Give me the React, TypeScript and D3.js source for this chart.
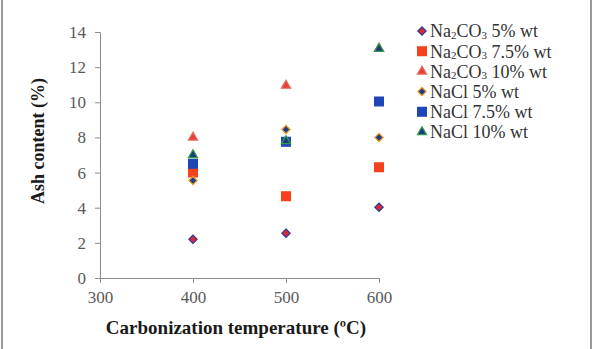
import React, { useEffect, useRef } from "react";
import * as d3 from "d3";

// carbonization temperatures (ºC)
const temps = [400, 500, 600];
const xTicks = [300, 400, 500, 600];
const yTicks = [0, 2, 4, 6, 8, 10, 12, 14];

// ash content (%) per series at each temperature
const na2co3_5 = [2.2, 2.55, 4.03];
const na2co3_75 = [6.0, 4.65, 6.3];
const na2co3_10 = [8.0, 10.95, 13.05];
const nacl_5 = [5.55, 8.45, 8.0];
const nacl_75 = [6.5, 7.75, 10.05];
const nacl_10 = [7.0, 7.8, 13.05];

type Series = {
    salt: string;
    load: string;
    values: number[];
    shape: "diamond" | "square" | "triangle";
    fill: string;
    stroke: string;
};

const series: Series[] = [
    { salt: "Na2CO3", load: "5% wt", values: na2co3_5, shape: "diamond", fill: "#d7263d", stroke: "#2b3a8c" },
    { salt: "Na2CO3", load: "7.5% wt", values: na2co3_75, shape: "square", fill: "#f6421c", stroke: "#f6421c" },
    { salt: "Na2CO3", load: "10% wt", values: na2co3_10, shape: "triangle", fill: "#e5403a", stroke: "#e86a5f" },
    { salt: "NaCl", load: "5% wt", values: nacl_5, shape: "diamond", fill: "#233a8e", stroke: "#f3a21c" },
    { salt: "NaCl", load: "7.5% wt", values: nacl_75, shape: "square", fill: "#1f45b8", stroke: "#1f45b8" },
    { salt: "NaCl", load: "10% wt", values: nacl_10, shape: "triangle", fill: "#1d3a7a", stroke: "#2e9a4a" },
];

const W = 599, H = 349;
const margin = { top: 32, right: 220, bottom: 71, left: 100 };
const FONT = "'Liberation Serif', 'Times New Roman', serif";

function symbolPath(shape: Series["shape"]) {
    if (shape === "diamond") return d3.symbol(d3.symbolDiamond2, 44)();
    if (shape === "square") return d3.symbol(d3.symbolSquare, 78)();
    return d3.symbol(d3.symbolTriangle2, 60)();
}

function drawSalt(sel: d3.Selection<SVGTextElement, any, any, any>, s: Series) {
    if (s.salt === "Na2CO3") {
        sel.append("tspan").text("Na");
        sel.append("tspan").attr("font-size", 11).attr("dy", 1.5).text("2");
        sel.append("tspan").attr("dy", -1.5).text("CO");
        sel.append("tspan").attr("font-size", 11).attr("dy", 1.5).text("3");
        sel.append("tspan").attr("dy", -1.5).text(" " + s.load);
    } else {
        sel.text(s.salt + " " + s.load);
    }
}

export default function App() {
    const ref = useRef<SVGSVGElement>(null);

    useEffect(() => {
        const svg = d3.select(ref.current);
        svg.selectAll("*").remove();

        // frame sides
        svg.append("line").attr("x1", 2).attr("x2", 2).attr("y1", 0).attr("y2", H)
            .attr("stroke", "#9a9a9a").attr("stroke-width", 2);
        svg.append("line").attr("x1", 591).attr("x2", 591).attr("y1", 0).attr("y2", H)
            .attr("stroke", "#9a9a9a").attr("stroke-width", 2);

        const height = H - margin.top - margin.bottom;
        const g = svg.append("g").attr("transform", "translate(" + margin.left + "," + margin.top + ")");

        const x = d3.scaleLinear().domain([300, 600]).range([0, 279]);
        const y = d3.scaleLinear().domain([0, 14]).range([height, 0]);

        const xAxis = g.append("g").attr("transform", "translate(0," + height + ")")
            .call(d3.axisBottom(x).tickValues(xTicks).tickSize(5).tickPadding(8));
        const yAxis = g.append("g")
            .call(d3.axisLeft(y).tickValues(yTicks).tickSize(5).tickPadding(9));
        [xAxis, yAxis].forEach((a) => {
            a.attr("font-family", null).attr("font-size", null);
            a.select(".domain").attr("stroke", "#8c8c8c");
            a.selectAll(".tick line").attr("stroke", "#8c8c8c");
            a.selectAll(".tick text").attr("fill", "#595959")
                .style("font-family", FONT).style("font-size", "17px");
        });

        // points
        series.forEach((s) => {
            g.append("g").selectAll("path")
                .data(s.values)
                .join("path")
                .attr("d", symbolPath(s.shape))
                .attr("transform", (d, i) => "translate(" + x(temps[i]) + "," + y(d) + ")")
                .attr("fill", s.fill)
                .attr("stroke", s.stroke)
                .attr("stroke-width", 1.2);
        });

        // legend
        const legend = svg.append("g").attr("transform", "translate(422,31)");
        series.forEach((s, i) => {
            const row = legend.append("g").attr("transform", "translate(0," + i * 20.2 + ")");
            row.append("path").attr("d", symbolPath(s.shape))
                .attr("fill", s.fill).attr("stroke", s.stroke).attr("stroke-width", 1.2);
            const t = row.append("text").attr("x", 8).attr("dy", "0.35em")
                .attr("font-family", FONT).attr("font-size", 18).attr("fill", "#333333");
            drawSalt(t, s);
        });

        // axis titles
        svg.append("text")
            .attr("x", 236).attr("y", 334)
            .attr("text-anchor", "middle")
            .attr("font-family", FONT).attr("font-weight", "bold").attr("font-size", 19)
            .attr("fill", "#1a1a1a")
            .text("Carbonization temperature (ºC)");
        svg.append("text")
            .attr("transform", "translate(44,141) rotate(-90)")
            .attr("text-anchor", "middle")
            .attr("font-family", FONT).attr("font-weight", "bold").attr("font-size", 18)
            .attr("fill", "#1a1a1a")
            .text("Ash content (%)");
    }, []);

    return (
        <svg ref={ref} width={W} height={H}
            style={{ position: "absolute", left: 0, top: 0, background: "#fff" }} />
    );
}
